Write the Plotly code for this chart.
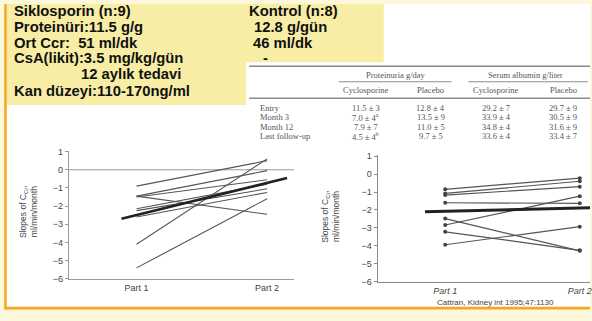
import plotly.graph_objects as go

W, H = 592, 321

# ---------------- data ----------------
parts = ["Part 1", "Part 2"]
part_pos = [1, 2]

# Left panel: cyclosporine group, slopes of CCr (ml/min/month)
cyc_part1 = [-0.9, -4.1, -1.45, -1.5, -1.45, -2.15, -2.25, -2.6, -5.4]
cyc_part2 = [0.5, 0.6, -0.05, -0.55, -2.45, -0.8, -1.05, -1.25, -1.6]
cyc_trend_x = [0.885, 2.153]
cyc_trend_y = [-2.7, -0.45]

# Right panel: control group
ctl_part1 = [-0.85, -1.08, -1.17, -1.6, -2.84, -2.48, -3.22, -3.94]
ctl_part2 = [-0.23, -0.4, -0.7, -1.63, -1.23, -4.28, -4.25, -2.93]
ctl_trend_x = [0.85, 2.1]
ctl_trend_y = [-2.1, -1.88]

y_ticks = [1, 0, -1, -2, -3, -4, -5, -6]

# Table (Proteinuria / Serum albumin)
table_rows = ["Entry", "Month 3", "Month 12", "Last follow-up"]
table_groups = ["Proteinuria g/day", "Serum albumin g/liter"]
table_cols = ["Cyclosporine", "Placebo", "Cyclosporine", "Placebo"]
prot_cyc = ["11.5 ± 3", "7.0 ± 4<sup>a</sup>", "7.9 ± 7", "4.5 ± 4<sup>b</sup>"]
prot_pla = ["12.8 ± 4", "13.5 ± 9", "11.0 ± 5", "9.7 ± 5"]
alb_cyc = ["29.2 ± 7", "33.9 ± 4", "34.8 ± 4", "33.6 ± 4"]
alb_pla = ["29.7 ± 9", "30.5 ± 9", "31.6 ± 9", "33.4 ± 7"]

# Slide text
left_lines = ["Siklosporin (n:9)", "Proteinüri:11.5 g/g", "Ort Ccr:  51 ml/dk",
              "CsA(likit):3.5 mg/kg/gün", "12 aylık tedavi", "Kan düzeyi:110-170ng/ml"]
right_lines = ["Kontrol (n:8)", "12.8 g/gün", "46 ml/dk", "-"]
citation = "Cattran, Kidney int 1995;47:1130"
ytitle = "Slopes of C<sub>Cr</sub>,<br>ml/min/month"


def px(x):
    return x / W


def py(y):
    return 1 - y / H


fig = go.Figure()

# left panel lines
for a, b in zip(cyc_part1, cyc_part2):
    fig.add_trace(go.Scatter(x=part_pos, y=[a, b], mode="lines",
                             line=dict(color="#555555", width=1.1),
                             xaxis="x", yaxis="y", showlegend=False, hoverinfo="skip"))
fig.add_trace(go.Scatter(x=cyc_trend_x, y=cyc_trend_y, mode="lines",
                         line=dict(color="#222222", width=2.6),
                         xaxis="x", yaxis="y", showlegend=False, hoverinfo="skip"))

# right panel lines
for a, b in zip(ctl_part1, ctl_part2):
    fig.add_trace(go.Scatter(x=part_pos, y=[a, b], mode="lines+markers",
                             line=dict(color="#555555", width=1.2),
                             marker=dict(color="#444444", size=4),
                             xaxis="x2", yaxis="y2", showlegend=False, hoverinfo="skip"))
fig.add_trace(go.Scatter(x=ctl_trend_x, y=ctl_trend_y, mode="lines",
                         line=dict(color="#222222", width=3),
                         xaxis="x2", yaxis="y2", showlegend=False, hoverinfo="skip"))

axis_font = dict(family="Liberation Sans, Arial, sans-serif", size=9, color="#444444")

fig.update_layout(
    width=W, height=H,
    margin=dict(l=0, r=0, t=0, b=0),
    paper_bgcolor="#fdf8dc",
    plot_bgcolor="rgba(0,0,0,0)",
    xaxis=dict(domain=[px(69), px(295)], range=[0.481, 2.206],
               tickvals=part_pos, ticktext=parts, showgrid=False, zeroline=False,
               showline=True, linecolor="#9a9a9a", linewidth=1, ticks="",
               tickfont=axis_font, anchor="y"),
    yaxis=dict(domain=[py(282.7), py(150.9)], range=[-6, 1.05],
               tickvals=y_ticks, showgrid=False, zeroline=False,
               showline=True, linecolor="#9a9a9a", linewidth=1,
               ticks="outside", ticklen=3, tickcolor="#9a9a9a",
               tickfont=axis_font, anchor="x"),
    xaxis2=dict(domain=[px(379), 1], range=[0.4985, 2.076],
                tickvals=part_pos, ticktext=parts, showgrid=False, zeroline=False,
                showline=True, linecolor="#8a8a8a", linewidth=1.3, ticks="",
                ticklabeloverflow="allow",
                tickfont=dict(family="Liberation Sans, Arial, sans-serif", size=9,
                              color="#444444", style="italic"),
                anchor="y2"),
    yaxis2=dict(domain=[py(285.7), py(155.6)], range=[-6, 1.05],
                tickvals=y_ticks, showgrid=False, zeroline=False,
                showline=True, linecolor="#8a8a8a", linewidth=1.3,
                ticks="outside", ticklen=3, tickcolor="#8a8a8a",
                tickfont=axis_font, anchor="x2"),
)

shapes = []
# white slide area, orange frame
shapes.append(dict(type="rect", xref="paper", yref="paper", x0=px(5), x1=1, y0=py(313), y1=1,
                   fillcolor="#ffffff", line=dict(width=0), layer="below"))
shapes.append(dict(type="rect", xref="paper", yref="paper", x0=px(6.5), x1=px(385), y0=py(104), y1=1,
                   fillcolor="#f7eda4", line=dict(width=0), layer="below"))
shapes.append(dict(type="rect", xref="paper", yref="paper", x0=px(247), x1=1, y0=py(150), y1=py(60),
                   fillcolor="#ffffff", line=dict(width=0), layer="below"))
shapes.append(dict(type="line", xref="paper", yref="paper", x0=px(5.5), x1=px(5.5), y0=py(314), y1=1,
                   line=dict(color="#f5a623", width=2.5), layer="below"))
shapes.append(dict(type="line", xref="paper", yref="paper", x0=px(4.5), x1=1, y0=py(313), y1=py(313),
                   line=dict(color="#f5a623", width=2.8), layer="below"))
# zero reference line, left panel
shapes.append(dict(type="line", xref="x domain", yref="y", x0=0, x1=1, y0=0, y1=0,
                   line=dict(color="#9a9a9a", width=1.2), layer="below"))
# table rules
rule = dict(color="#8c8c8c", width=1)
shapes.append(dict(type="line", xref="paper", yref="paper", x0=px(250), x1=1, y0=py(64), y1=py(64),
                   line=dict(color="#888888", width=1.6)))
shapes.append(dict(type="line", xref="paper", yref="paper", x0=px(340), x1=px(453), y0=py(80), y1=py(80),
                   line=rule))
shapes.append(dict(type="line", xref="paper", yref="paper", x0=px(470), x1=px(590), y0=py(80), y1=py(80),
                   line=rule))
shapes.append(dict(type="line", xref="paper", yref="paper", x0=px(250), x1=1, y0=py(97), y1=py(97),
                   line=dict(color="#8c8c8c", width=1.4)))
fig.update_layout(shapes=shapes)

ann = []
slide_font = dict(family="Liberation Sans, Arial, sans-serif", size=14.8, color="#111111")
left_y = [6.7, 23.3, 40, 55.5, 71.7, 89]
left_x = [12, 12, 12, 12, 79, 12]
for t, x, y in zip(left_lines, left_x, left_y):
    ann.append(dict(text="<b>" + t + "</b>", x=px(x), y=py(y), xref="paper", yref="paper",
                    xanchor="left", yanchor="middle", showarrow=False, font=slide_font))
right_x = [248, 253, 252, 262]
for t, x, y in zip(right_lines, right_x, left_y[:4]):
    ann.append(dict(text="<b>" + t + "</b>", x=px(x), y=py(y), xref="paper", yref="paper",
                    xanchor="left", yanchor="middle", showarrow=False, font=slide_font))

tab_font = dict(family="Liberation Serif, Times New Roman, serif", size=8.5, color="#555555")
for t, x in zip(table_groups, [397, 527]):
    ann.append(dict(text=t, x=px(x), y=py(73), xref="paper", yref="paper",
                    xanchor="center", yanchor="middle", showarrow=False, font=tab_font))
col_x = [367, 432, 498, 565]
for t, x in zip(table_cols, col_x):
    ann.append(dict(text=t, x=px(x), y=py(88), xref="paper", yref="paper",
                    xanchor="center", yanchor="middle", showarrow=False, font=tab_font))
row_y = [107, 116.5, 126.5, 136]
for i, r in enumerate(table_rows):
    ann.append(dict(text=r, x=px(259), y=py(row_y[i]), xref="paper", yref="paper",
                    xanchor="left", yanchor="middle", showarrow=False, font=tab_font))
    for col, x in zip([prot_cyc, prot_pla, alb_cyc, alb_pla], col_x):
        ann.append(dict(text=col[i], x=px(x), y=py(row_y[i]), xref="paper", yref="paper",
                        xanchor="center", yanchor="middle", showarrow=False, font=tab_font))

title_font = dict(family="Liberation Sans, Arial, sans-serif", size=8.5, color="#444444")
ann.append(dict(text=ytitle, x=px(28), y=py(213), xref="paper", yref="paper", textangle=-90,
                xanchor="center", yanchor="middle", showarrow=False, font=title_font))
ann.append(dict(text=ytitle, x=px(332), y=py(218), xref="paper", yref="paper", textangle=-90,
                xanchor="center", yanchor="middle", showarrow=False, font=title_font))
ann.append(dict(text=citation, x=px(497), y=py(307.5), xref="paper", yref="paper",
                xanchor="center", yanchor="middle", showarrow=False,
                font=dict(family="Liberation Sans, Arial, sans-serif", size=8, color="#444444")))
fig.update_layout(annotations=ann)

fig.write_html("out.html", config={"displayModeBar": False},
               post_script="document.body.style.margin='0px';document.body.style.overflow='hidden';")
